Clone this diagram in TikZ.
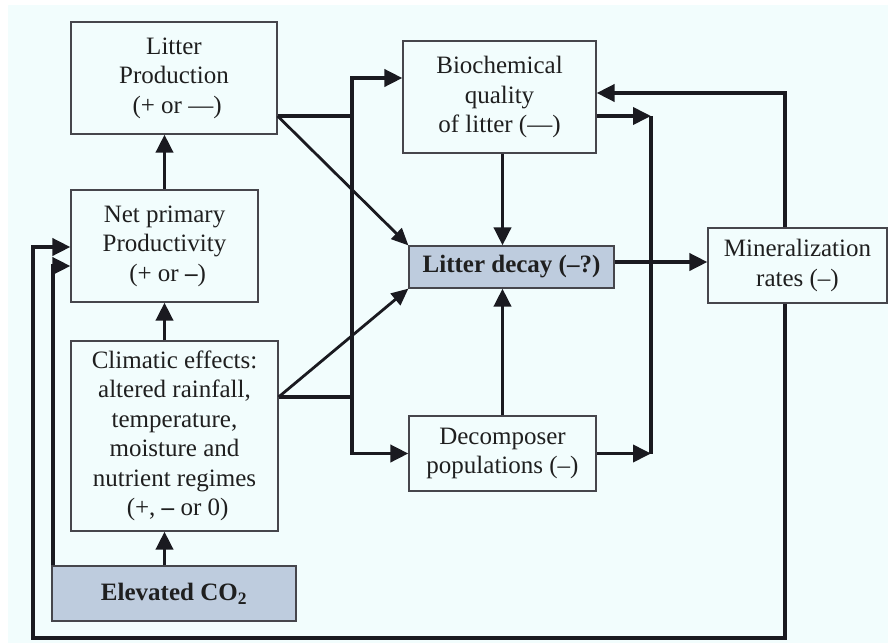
\documentclass[tikz,border=0pt]{standalone}
\usepackage{fontspec}
\setmainfont{Liberation Serif}
\usetikzlibrary{arrows.meta}
\definecolor{bgc}{RGB}{242,253,253}
\definecolor{hlc}{RGB}{190,204,222}
\definecolor{lnc}{RGB}{26,26,32}
\definecolor{bdc}{RGB}{70,70,76}
\begin{document}
\begin{tikzpicture}[x=1pt,y=-1pt,
			every node/.style = {draw=bdc, line width=1.2pt, fill=bgc, align=center, inner sep=0pt,
				font=\fontsize{25}{29.5}\selectfont, text=black!88},
			hl/.style = {fill=hlc, font=\fontsize{25}{29.5}\selectfont\bfseries},
			thk/.style = {draw=lnc, line width=3.8pt},
			arr/.style = {thk, -{Triangle[length=18pt,width=17pt]}},
			diag/.style = {draw=lnc, line width=2.8pt, -{Triangle[length=17pt,width=15pt]}}]
			
			\useasboundingbox (0,0) rectangle (888,643);
			\fill[bgc] (8,5) rectangle (888,643);
			
			% boxes
			\node[minimum width=206pt, minimum height=112pt] (lprod) at (174,78) {Litter\\Production\\ \ (+ or ---)};
			\node[minimum width=187pt, minimum height=112pt] (npp) at (164.5,246) {Net primary\\Productivity\\ \ (+ or \textbf{--})};
			\node[minimum width=207pt, minimum height=190pt] (clim) at (174.5,436) {Climatic effects:\\altered rainfall,\\temperature,\\moisture and\\nutrient regimes\\ \ (+, \textbf{--} or 0)};
			\node[hl, minimum width=244pt, minimum height=55pt] (co2) at (174,593.5) {Elevated CO\textsubscript{2}};
			\node[minimum width=193pt, minimum height=112pt] (bioq) at (499.5,97) {Biochemical\\quality\\of litter (---)};
			\node[hl, minimum width=205pt, minimum height=42pt] (decay) at (511.5,267) {Litter decay (--?)};
			\node[minimum width=187pt, minimum height=75pt] (decomp) at (502.5,453.5) {Decomposer\\populations (--)};
			\node[minimum width=179pt, minimum height=75pt] (minrl) at (797.5,265.5) {Mineralization\\rates (--)};
			
			% junctions
			\coordinate (jl1) at (352,116);
			\coordinate (jl2) at (352,397);
			\coordinate (jlt) at (352,78);
			\coordinate (jrt) at (651,116);
			\coordinate (jrb) at (651,453.5);
			\coordinate (dm) at (660,262);
			\coordinate (mt) at (785,93);
			\coordinate (ob) at (33,638);
			\coordinate (oa) at (33,247);
			\coordinate (ia) at (53,266);
			
			% upward chain
			\draw[arr] (co2.north -| npp) -- (clim.south -| npp);
			\draw[arr] (clim.north -| npp) -- (npp.south);
			\draw[arr] (npp.north) -- (lprod.south -| npp);
			
			% left junction
			\draw[thk] (lprod.east |- jl1) -- (jl1);
			\draw[thk] (clim.east |- jl2) -- (jl2);
			\draw[thk] (jl1) -- (jl2);
			\draw[arr] (jl1) |- (bioq.west |- jlt);
			\draw[arr] (jl2) |- (decomp.west);
			\draw[diag] (lprod.east |- jl1) -- (decay.north west);
			\draw[diag] (clim.east |- jl2) -- (decay.south west);
			
			% into litter decay
			\draw[arr] (bioq.south -| decomp) -- (decay.north -| decomp);
			\draw[arr] (decomp.north) -- (decay.south -| decomp);
			
			% right junction
			\draw[arr] (bioq.east |- jrt) -- (jrt);
			\draw[arr] (decomp.east) -- (jrb);
			\draw[thk] (jrt) -- (jrb);
			\draw[arr] (decay.east |- dm) -- (minrl.west |- dm);
			
			% feedback loops
			\draw[arr] (minrl.north -| mt) |- (bioq.east |- mt);
			\draw[arr] (minrl.south -| mt) |- (ob) |- (npp.west |- oa);
			\draw[arr] (co2.north west -| ia) |- (npp.west |- ia);
\end{tikzpicture}
\end{document}
